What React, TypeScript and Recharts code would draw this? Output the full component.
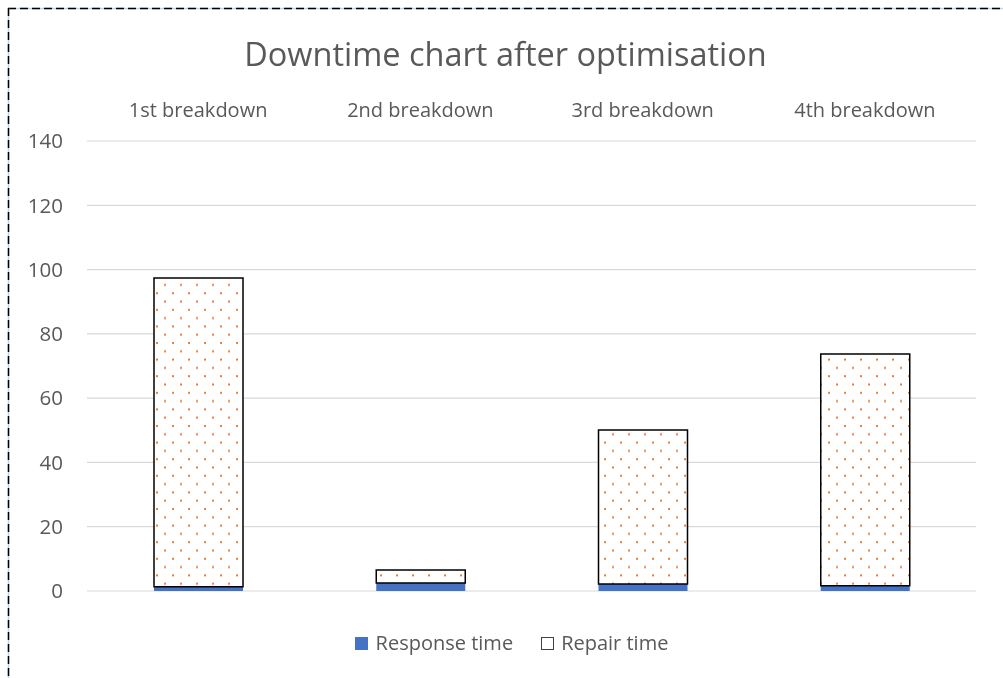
import React from 'react';
import { BarChart, Bar, XAxis, YAxis, CartesianGrid } from 'recharts';

const categories = ['1st breakdown', '2nd breakdown', '3rd breakdown', '4th breakdown'];
const responseTime = [1.3, 2.5, 2.2, 1.6];
const repairTime = [96.1, 4.0, 47.9, 72.1];
const yTicks = [0, 20, 40, 60, 80, 100, 120, 140];
const seriesNames = ['Response time', 'Repair time'];
const titleText = 'Downtime chart after optimisation';

const data = categories.map((c, i) => ({
  name: c,
  response: responseTime[i],
  repair: repairTime[i],
}));

const FONT = '"Open Sans", "Liberation Sans", sans-serif';
const TXT = '#595959';

export default function App() {
  return (
    <div style={{ position: 'relative', width: 995, height: 662, fontFamily: FONT }}>
      <style>{`html,body{overflow:hidden}`}</style>
      <svg
        width={1003}
        height={678}
        style={{ position: 'fixed', left: 0, top: 0, pointerEvents: 'none' }}
      >
        <line x1={8} y1={8.5} x2={1003} y2={8.5} stroke="#BDD7EE" strokeWidth={1.5} />
        <line x1={8} y1={8.5} x2={1003} y2={8.5} stroke="#000" strokeWidth={1.5} strokeDasharray="8 4" />
        <line x1={8.5} y1={8} x2={8.5} y2={678} stroke="#BDD7EE" strokeWidth={1.5} />
        <line x1={8.5} y1={8} x2={8.5} y2={678} stroke="#000" strokeWidth={1.5} strokeDasharray="8 4" />
      </svg>
      <div
        style={{
          position: 'absolute',
          left: 0,
          top: 28,
          width: 995,
          textAlign: 'center',
          fontSize: 32.5,
          color: TXT,
          lineHeight: '36px',
        }}
      >
        {titleText}
      </div>
      <BarChart
        width={995}
        height={662}
        data={data}
        margin={{ top: 93, right: 27, bottom: 79, left: 0 }}
        barSize={89}
      >
        <defs>
          <pattern id="dots" patternUnits="userSpaceOnUse" width={16} height={16.6} x={4} y={2}>
            <rect x={0} y={0} width={16} height={16.6} fill="#fff" />
            <rect x={0} y={0} width={2} height={2} fill="#ED7D31" />
            <rect x={8} y={8.3} width={2} height={2} fill="#ED7D31" />
          </pattern>
        </defs>
        <CartesianGrid vertical={false} stroke="#D9D9D9" strokeWidth={1.2} />
        <XAxis
          dataKey="name"
          orientation="top"
          height={40}
          axisLine={false}
          tickLine={false}
          tickSize={0}
          tickMargin={24}
          tick={{ fill: TXT, fontSize: 20, fontFamily: FONT }}
        />
        <YAxis
          domain={[0, 140]}
          ticks={yTicks}
          width={79}
          axisLine={false}
          tickLine={false}
          tickSize={0}
          tickMargin={24}
          tick={{ fill: TXT, fontSize: 20.5, fontFamily: FONT }}
        />
        <Bar
          dataKey="response"
          name={seriesNames[0]}
          stackId="a"
          fill="#4472C4"
          isAnimationActive={false}
        />
        <Bar
          dataKey="repair"
          name={seriesNames[1]}
          stackId="a"
          fill="url(#dots)"
          stroke="#000"
          strokeWidth={1.5}
          isAnimationActive={false}
        />
      </BarChart>
      <div
        style={{
          position: 'absolute',
          top: 621,
          left: 0,
          width: 995,
          display: 'flex',
          justifyContent: 'center',
          alignItems: 'center',
          fontSize: 20,
          color: TXT,
          lineHeight: '28px',
        }}
      >
        <div style={{ display: 'flex', alignItems: 'center', marginLeft: 12 }}>
          <span style={{ display: 'inline-block', width: 13, height: 13, background: '#4472C4', marginRight: 8 }} />
          <span>{seriesNames[0]}</span>
        </div>
        <div style={{ display: 'flex', alignItems: 'center', marginLeft: 28 }}>
          <span
            style={{
              display: 'inline-block',
              width: 11,
              height: 11,
              background: '#fff',
              border: '1.5px solid #404040',
              marginRight: 7,
              position: 'relative',
            }}
          />
          <span>{seriesNames[1]}</span>
        </div>
      </div>
    </div>
  );
}
